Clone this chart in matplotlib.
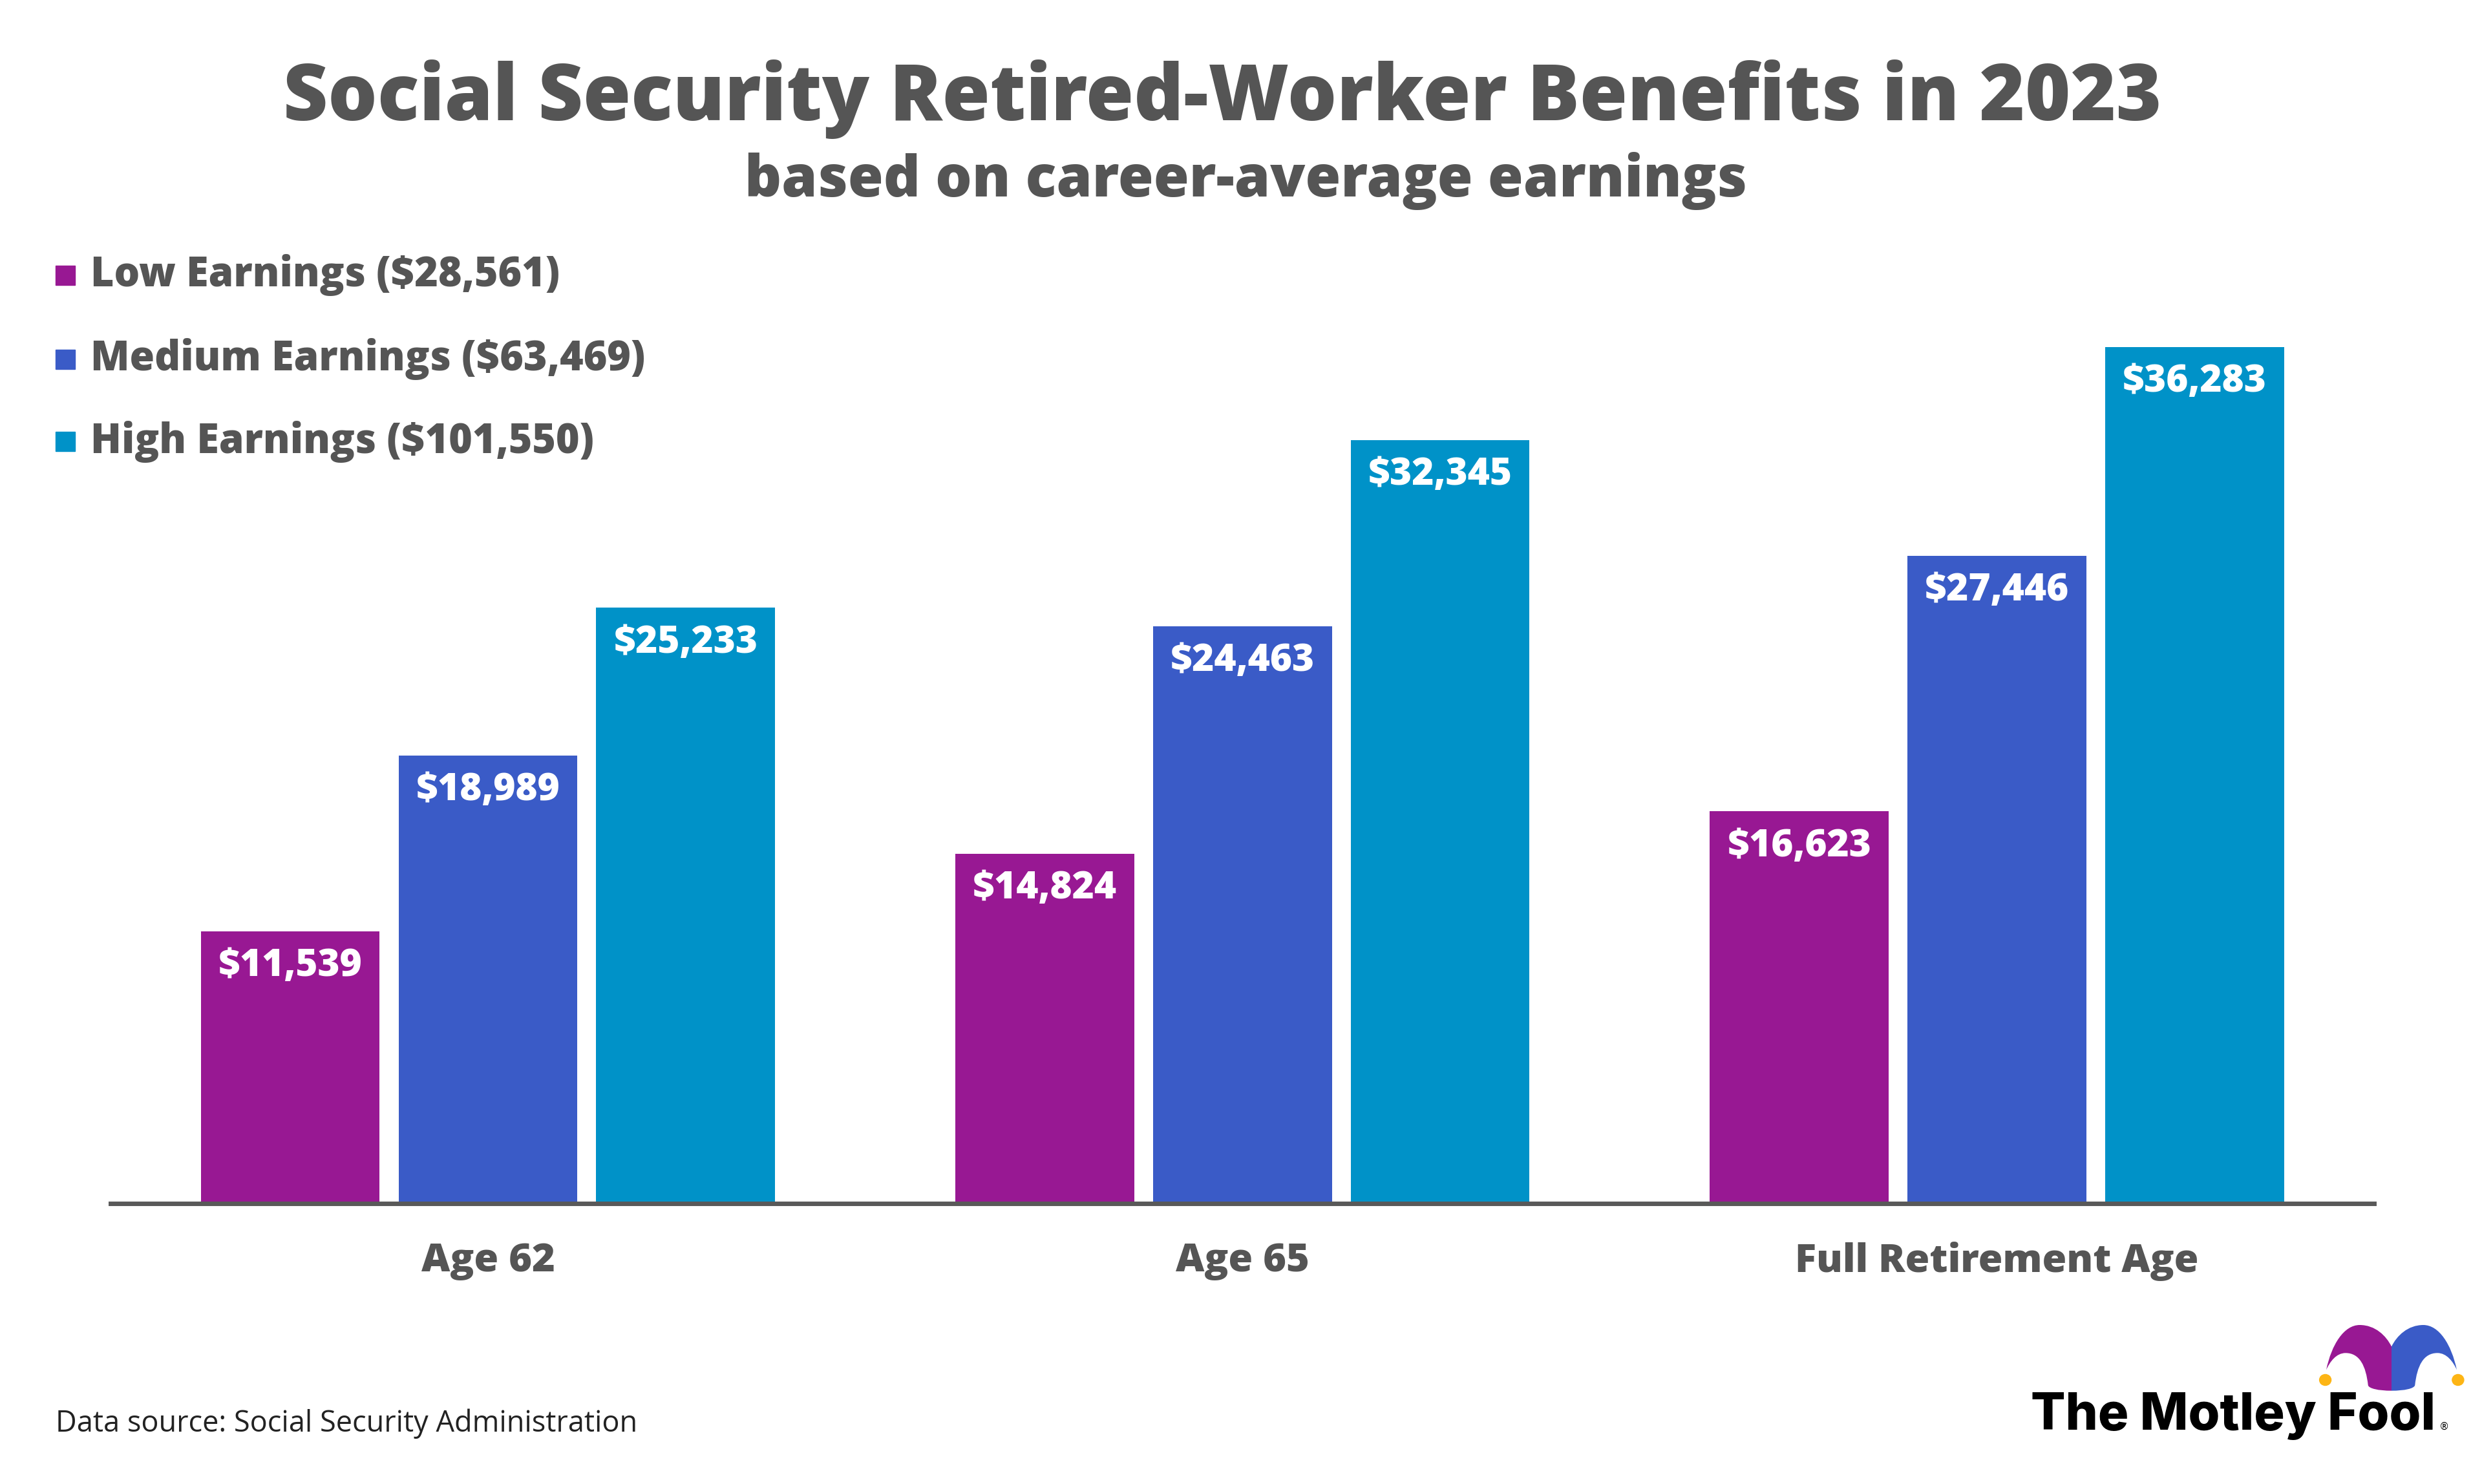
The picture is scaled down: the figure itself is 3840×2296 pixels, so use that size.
import matplotlib
matplotlib.use('Agg')
import matplotlib.pyplot as plt
from matplotlib.path import Path
from matplotlib.patches import PathPatch, Ellipse, Rectangle
import numpy as np

# 數據
categories = ['Age 62', 'Age 65', 'Full Retirement Age']
series_names = ['Low Earnings ($28,561)', 'Medium Earnings ($63,469)', 'High Earnings ($101,550)']
low_vals = [11539, 14824, 16623]
medium_vals = [18989, 24463, 27446]
high_vals = [25233, 32345, 36283]
colors = ['#981893', '#3A5BC7', '#0092C8']

TEXT_GRAY = '#555555'
FONT = ['Open Sans', 'DejaVu Sans']
plt.rcParams['font.family'] = FONT
HEAVY = 800

fig = plt.figure(figsize=(38.4, 22.96), dpi=100)
fig.patch.set_facecolor('white')

# 主圖區
ax = fig.add_axes([0.0446, 0.1889, 0.912, 0.6365])
x = np.arange(len(categories))
bar_w = 0.237
step = 0.262
for i, vals in enumerate([low_vals, medium_vals, high_vals]):
    bars = ax.bar(x + (i - 1) * step, vals, width=bar_w, color=colors[i], zorder=2)
    for b, v in zip(bars, vals):
        ax.annotate(f'${v:,}', (b.get_x() + b.get_width() / 2, b.get_height()),
                    xytext=(0, -39), textcoords='offset points',
                    ha='center', va='center', color='white',
                    fontsize=42, fontweight=HEAVY)

ax.set_xlim(-0.5, 2.5)
ax.set_ylim(0, 40000)
for s in ['top', 'right', 'left']:
    ax.spines[s].set_visible(False)
ax.spines['bottom'].set_color('#595959')
ax.spines['bottom'].set_linewidth(5)
ax.set_yticks([])
ax.set_xticks(x)
ax.set_xticklabels(categories, fontsize=44, fontweight=HEAVY, color=TEXT_GRAY)
ax.tick_params(axis='x', length=0, pad=42)

# 標題
fig.text(0.4925, 0.933, 'Social Security Retired-Worker Benefits in 2023',
         ha='center', va='center', fontsize=86.5, fontweight=HEAVY, color=TEXT_GRAY)
fig.text(0.502, 0.878, 'based on career-average earnings',
         ha='center', va='center', fontsize=64, fontweight=HEAVY, color=TEXT_GRAY)

# 圖例（手動排版）
legend_y = [426, 556, 683]
for name, c, yy in zip(series_names, colors, legend_y):
    fig.patches.append(Rectangle((86 / 3840, 1 - (yy + 15) / 2296), 30 / 3840, 30 / 2296,
                                 transform=fig.transFigure, color=c))
    fig.text(140 / 3840, 1 - yy / 2296, name, ha='left', va='center',
             fontsize=45, fontweight=HEAVY, color=TEXT_GRAY)

# 資料來源
fig.text(86 / 3840, 1 - 2203 / 2296, 'Data source: Social Security Administration',
         ha='left', va='center', fontsize=32.5, color='#222222')

# Motley Fool 標誌
lx = fig.add_axes([0, 0, 1, 1])
lx.set_xlim(0, 3840)
lx.set_ylim(2296, 0)
lx.axis('off')
lx.patch.set_alpha(0)

def zx(v):
    return 3100 + v / 2.07

def zy(v):
    return 2020 + v / 3

left_lobe = [(1033, 298), (1050, 180), (1090, 90), (1140, 90),
             (1190, 90), (1225, 140), (1242, 190),
             (1242, 395),
             (1200, 395), (1170, 385), (1167, 370),
             (1160, 280), (1140, 220), (1095, 220),
             (1065, 220), (1045, 260), (1033, 298),
             (1033, 298)]
codes = [Path.MOVETO] + [Path.CURVE4] * 6 + [Path.LINETO] + [Path.CURVE4] * 9 + [Path.CLOSEPOLY]
pts_l = [(zx(a), zy(b)) for a, b in left_lobe]
pts_r = [(zx(2484 - a), zy(b)) for a, b in left_lobe]
lx.add_patch(PathPatch(Path(pts_l, codes), facecolor='#981893', edgecolor='none'))
lx.add_patch(PathPatch(Path(pts_r, codes), facecolor='#3A5BC7', edgecolor='none'))
for cx in [1030, 1455]:
    lx.add_patch(Ellipse((zx(cx), zy(345)), 18, 17, color='#FDB515'))
lx.text(3142, 2212, 'The Motley Fool', ha='left', va='baseline',
        fontsize=57, fontweight='heavy', color='black', family=['Inter', 'DejaVu Sans'])
lx.text(3774, 2212, '®', ha='left', va='baseline', fontsize=11, color='black',
        family=['DejaVu Sans'])

fig.savefig('out.png', dpi=100, facecolor='white')
